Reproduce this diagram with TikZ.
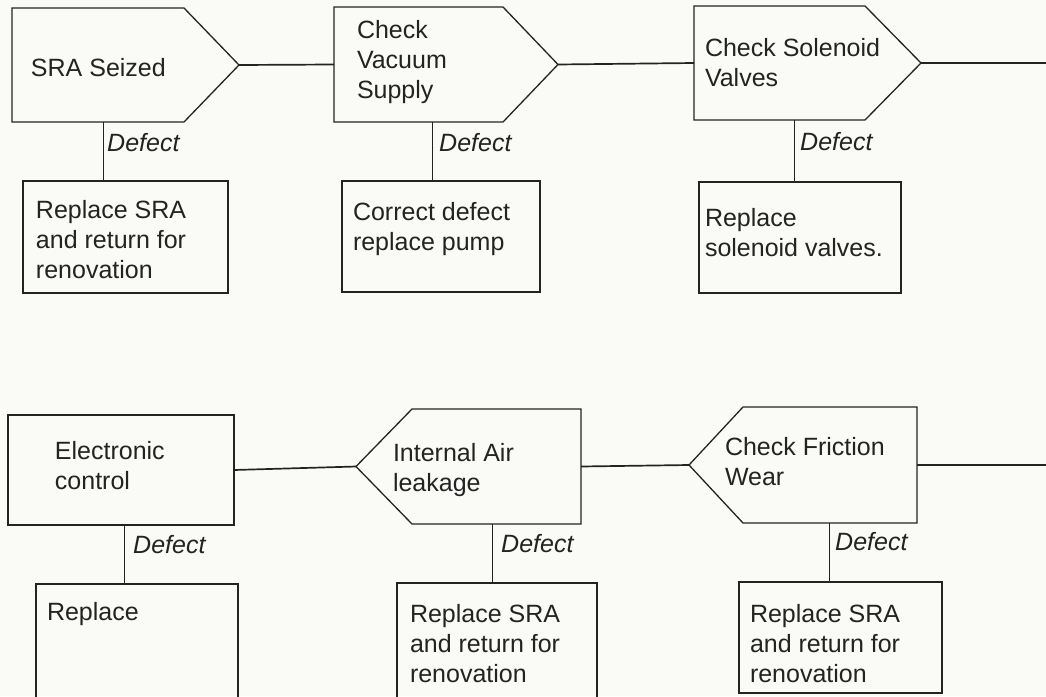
\documentclass[tikz,border=0pt]{standalone}
\usepackage{fontspec}
\setmainfont{Liberation Sans}
\usetikzlibrary{calc}
\definecolor{paper}{RGB}{250,250,246}
\definecolor{ink}{RGB}{35,35,35}
\newcommand{\cell}[5]{\parbox[c][#2][t]{#1}{\raggedright\leftskip=#3\relax\vspace*{#4}\strut#5\par}}
\begin{document}
\begin{tikzpicture}[x=1pt,y=-1pt,
  every node/.style={font=\fontsize{25}{30}\selectfont, text=ink},
  main/.style={inner sep=0pt, outer sep=0pt, draw=none},
  outline/.style={draw=ink, line width=1.3pt, line join=miter},
  dbox/.style={draw=ink, line width=1.2pt, inner sep=0pt, outer sep=0pt},
  link/.style={draw=ink, line width=1.7pt},
  dline/.style={draw=ink, line width=0.8pt},
  dlabel/.style={inner sep=0pt, anchor=west, font=\itshape\fontsize{25}{30}\selectfont}]
\path[use as bounding box] (0,0) rectangle (1046,696);
\clip (0,0) rectangle (1046,696);
\fill[paper] (0,0) rectangle (1046,696);

% ---- top row main nodes ----
\node[main] (n1) at (125.5,65) {\cell{227pt}{114pt}{19pt}{47pt}{SRA Seized}};
\node[main] (n2) at (446,64.5) {\cell{224pt}{115pt}{23pt}{10pt}{Check\\Vacuum\\Supply}};
\node[main] (n3) at (807.5,63) {\cell{227pt}{114pt}{11pt}{29pt}{Check Solenoid\\Valves}};
\draw[outline] (n1.north west) -- ([xshift=-55pt]n1.north east) -- (n1.east) -- ([xshift=-55pt]n1.south east) -- (n1.south west) -- cycle;
\draw[outline] (n2.north west) -- ([xshift=-55pt]n2.north east) -- (n2.east) -- ([xshift=-55pt]n2.south east) -- (n2.south west) -- cycle;
\draw[outline] (n3.north west) -- ([xshift=-56pt]n3.north east) -- (n3.east) -- ([xshift=-56pt]n3.south east) -- (n3.south west) -- cycle;

% ---- bottom row main nodes ----
\node[main] (n4) at (121,470) {\cell{226pt}{110pt}{47pt}{23pt}{Electronic\\control}};
\node[main] (n5) at (468.5,466.5) {\cell{225pt}{115pt}{37pt}{31pt}{Internal Air\\leakage}};
\node[main] (n6) at (803,465) {\cell{228pt}{116pt}{36pt}{27pt}{Check Friction\\Wear}};
\draw[outline] (n4.north west) rectangle (n4.south east);
\draw[outline] (n5.west) -- ([xshift=56pt]n5.north west) -- (n5.north east) -- (n5.south east) -- ([xshift=56pt]n5.south west) -- cycle;
\draw[outline] (n6.west) -- ([xshift=54pt]n6.north west) -- (n6.north east) -- (n6.south east) -- ([xshift=54pt]n6.south west) -- cycle;

% ---- defect boxes ----
\node[dbox] (b1) at (125.5,237) {\cell{205pt}{112pt}{13pt}{16pt}{Replace SRA\\and return for\\renovation}};
\node[dbox] (b2) at (441,236.5) {\cell{198pt}{111pt}{11pt}{18pt}{Correct defect\\replace pump}};
\node[dbox] (b3) at (800,237.5) {\cell{202pt}{111pt}{6pt}{23pt}{Replace\\solenoid valves.}};
\node[dbox] (b4) at (137,649) {\cell{202pt}{130pt}{11pt}{15pt}{Replace}};
\node[dbox] (b5) at (497,648) {\cell{200pt}{130pt}{13pt}{18pt}{Replace SRA\\and return for\\renovation}};
\node[dbox] (b6) at (840.5,637.5) {\cell{203pt}{111pt}{11pt}{19pt}{Replace SRA\\and return for\\renovation}};

% ---- defect connectors ----
\coordinate (t1) at ($(n1.south west)+(91,0)$);
\coordinate (t2) at ($(n2.south west)+(98,0)$);
\coordinate (t3) at ($(n3.south west)+(100,0)$);
\coordinate (t4) at ($(n4.south west)+(116,0)$);
\coordinate (t5) at ($(n5.south west)+(136,0)$);
\coordinate (t6) at ($(n6.south west)+(140,0)$);
\draw[dline] (t1) -- (t1 |- b1.north);
\draw[dline] (t2) -- (t2 |- b2.north);
\draw[dline] (t3) -- (t3 |- b3.north);
\draw[dline] (t4) -- (t4 |- b4.north);
\draw[dline] (t5) -- (t5 |- b5.north);
\draw[dline] (t6) -- (t6 |- b6.north);

\node[dlabel] (d1) at (107,143) {Defect};
\node[dlabel] (d2) at (439,143) {Defect};
\node[dlabel] (d3) at (800,142) {Defect};
\node[dlabel] (d4) at (133,545) {Defect};
\node[dlabel] (d5) at (501,544) {Defect};
\node[dlabel] (d6) at (835,542) {Defect};

% ---- main connectors ----
\coordinate (e1) at (1046,63);
\coordinate (e2) at (1046,465);
\draw[link] (n1.east) -- (n2.west);
\draw[link] (n2.east) -- (n3.west);
\draw[link] (n3.east) -- (e1);
\draw[link] (n4.east) -- (n5.west);
\draw[link] (n5.east) -- (n6.west);
\draw[link] (n6.east) -- (e2);
\end{tikzpicture}
\end{document}
